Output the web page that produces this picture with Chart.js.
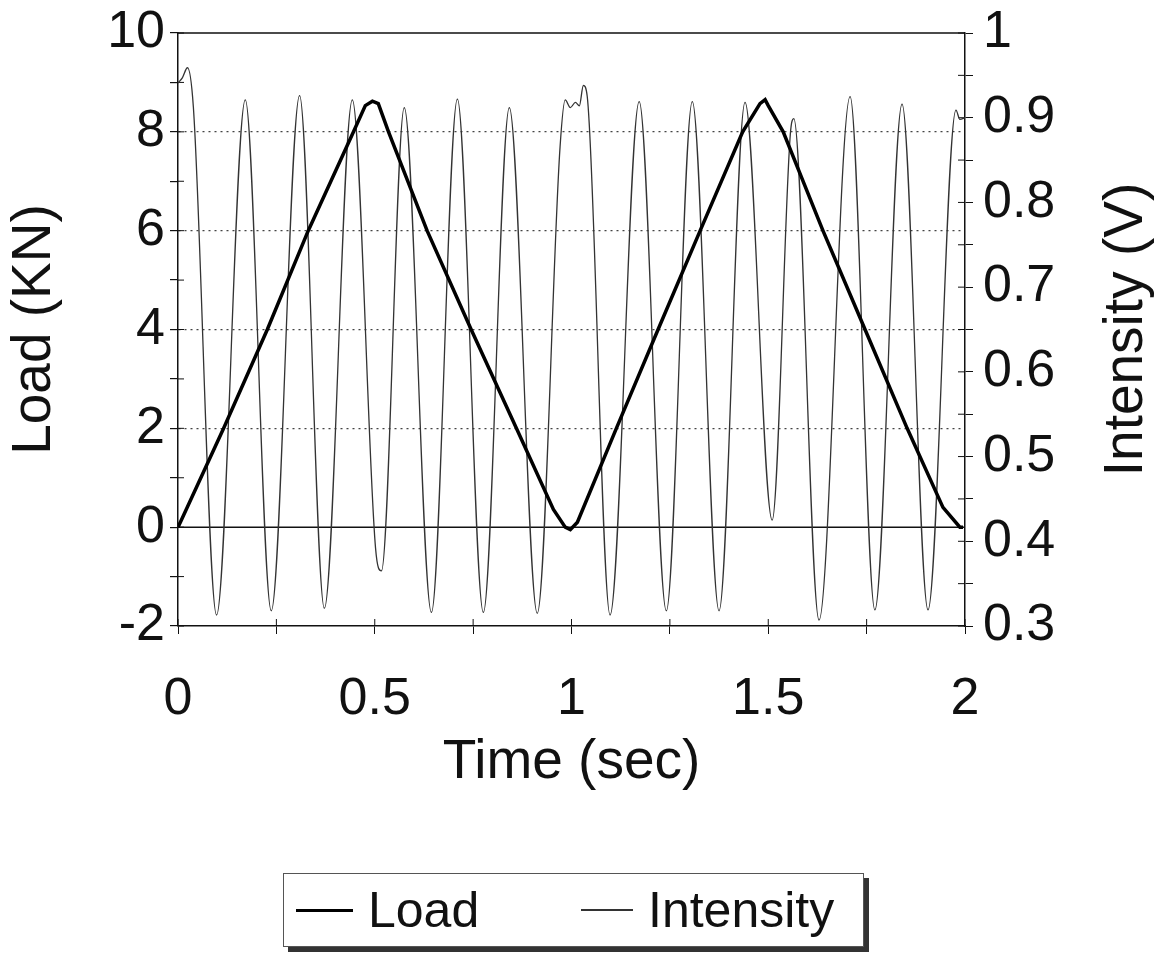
<!DOCTYPE html>
<html>
<head>
<meta charset="utf-8">
<script src="https://cdn.jsdelivr.net/npm/chart.js@4.4.0/dist/chart.umd.min.js"></script>
<style>
  body{margin:0;background:#fff}
  #wrap{position:relative;width:1164px;height:960px}
  #legend{position:absolute;left:283px;top:873px;width:579px;height:72px;border:1px solid #555;
          box-shadow:5px 5px 0 #333;background:#fff;font:50px 'Liberation Sans',Arial,sans-serif;color:#111}
  #legend .item{position:absolute;top:0;height:72px;display:flex;align-items:center}
  #legend .swatch{display:inline-block;margin-right:15px}
</style>
</head>
<body>
<div id="wrap">
  <canvas id="chart" width="1164" height="960"></canvas>
  <div id="legend"></div>
</div>
<script>
const $ = (id)=>document.getElementById(id);

// ---------- data ----------
const loadTime = [0, 0.006, 0.116, 0.227, 0.331, 0.446, 0.476, 0.494, 0.509, 0.535, 0.633, 0.745, 0.86, 0.954,
  0.984, 0.997, 1.015, 1.114, 1.22, 1.327, 1.435, 1.479, 1.492, 1.5, 1.538, 1.639, 1.746, 1.853, 1.944, 1.987, 1.995];
const loadKN = [0, 0.1, 2, 4, 6, 8, 8.53, 8.62, 8.57, 8, 6, 4, 2, 0.36,
  0, -0.05, 0.1, 2, 4, 6, 8, 8.57, 8.65, 8.53, 8, 6, 4, 2, 0.4, 0, 0];

const intTime = [0, 0.011, 0.024, 0.039, 0.098, 0.171, 0.237, 0.309, 0.372, 0.443, 0.502, 0.517, 0.575, 0.644,
  0.71, 0.776, 0.842, 0.913, 0.971, 0.984, 0.997, 1.01, 1.02, 1.03, 1.04, 1.098, 1.172, 1.241, 1.307, 1.375,
  1.441, 1.51, 1.556, 1.565, 1.629, 1.708, 1.771, 1.84, 1.906, 1.977, 1.987, 2.0];
const intV = [0.941, 0.947, 0.959, 0.913, 0.313, 0.921, 0.318, 0.926, 0.321, 0.921, 0.392, 0.365, 0.912, 0.316,
  0.922, 0.316, 0.912, 0.315, 0.866, 0.921, 0.912, 0.918, 0.914, 0.938, 0.925, 0.313, 0.919, 0.318, 0.919, 0.318,
  0.918, 0.425, 0.88, 0.899, 0.307, 0.925, 0.319, 0.916, 0.319, 0.909, 0.898, 0.9];

const timeLabels = [0, 0.5, 1, 1.5, 2];
const loadLabels = [-2, 0, 2, 4, 6, 8, 10];
const intLabels = [0.3, 0.4, 0.5, 0.6, 0.7, 0.8, 0.9, 1];
const dottedAt = [2, 4, 6, 8];

const FONT = "'Liberation Sans', Arial, Helvetica, sans-serif";
const INK = '#111';
const has = (list, v)=> list.some(l=>Math.abs(l-v)<1e-6);

// ---------- plugins ----------
const frame = {
  id:'frame',
  beforeDatasetsDraw(chart){
    const {ctx, chartArea:a, scales:{x, y, y1}} = chart;
    ctx.save();
    ctx.strokeStyle = INK; ctx.lineWidth = 1.5;
    const y0 = y.getPixelForValue(0);
    ctx.beginPath();
    ctx.moveTo(a.left, y0); ctx.lineTo(a.right, y0);
    ctx.moveTo(a.left, a.top); ctx.lineTo(a.right, a.top);
    ctx.stroke();
    // inner half of the tick marks
    ctx.lineWidth = 1; ctx.beginPath();
    x.ticks.forEach(t=>{ const p=x.getPixelForValue(t.value); ctx.moveTo(p,a.bottom); ctx.lineTo(p,a.bottom-7); });
    y.ticks.forEach(t=>{ const p=y.getPixelForValue(t.value); ctx.moveTo(a.left,p); ctx.lineTo(a.left+6,p); });
    y1.ticks.forEach(t=>{ const p=y1.getPixelForValue(t.value); ctx.moveTo(a.right,p); ctx.lineTo(a.right-7,p); });
    ctx.stroke();
    ctx.restore();
  },
  afterDraw(chart){
    // right axis title reads bottom-to-top like the left one
    const {ctx, chartArea:a, scales:{y1}} = chart;
    ctx.save();
    ctx.translate(y1.right - 37, (a.top + a.bottom)/2);
    ctx.rotate(-Math.PI/2);
    ctx.font = `55px ${FONT}`; ctx.fillStyle = INK;
    ctx.textAlign = 'center'; ctx.textBaseline = 'middle';
    ctx.fillText('Intensity (V)', 0, 0);
    ctx.restore();
  }
};

// fixed axis box sizes so the plot area sits where the original one does
const fitV = (w)=>(s)=>{ s.width = w; s.paddingTop = 0; s.paddingBottom = 0; };

// ---------- chart ----------
const tickFont = {family:FONT, size:52};
const chart = new Chart($('chart'), {
  type:'line',
  data:{datasets:[
    {label:'Load', data:loadTime.map((t,i)=>({x:t, y:loadKN[i]})), yAxisID:'y',
     borderColor:'#000', borderWidth:3.5, pointRadius:0, tension:0},
    {label:'Intensity', data:intTime.map((t,i)=>({x:t, y:intV[i]})), yAxisID:'y1',
     borderColor:'#333', borderWidth:1.3, pointRadius:0, cubicInterpolationMode:'monotone'}
  ]},
  options:{
    responsive:false, animation:false, devicePixelRatio:1,
    layout:{padding:{top:33, bottom:164, left:0, right:0}},
    plugins:{legend:{display:false}, tooltip:{enabled:false}},
    scales:{
      x:{type:'linear', min:0, max:2,
         afterFit:(s)=>{ s.height = 170; },
         ticks:{stepSize:0.25, autoSkip:false, maxRotation:0, padding:34, color:INK, font:tickFont,
                callback:(v)=> has(timeLabels, v) ? String(+v.toFixed(2)) : ''},
         grid:{drawOnChartArea:false, tickLength:8, tickColor:INK},
         border:{color:INK, width:1.5},
         title:{display:true, text:'Time (sec)', color:INK, font:{family:FONT, size:55}, padding:{top:0, bottom:0}}},
      y:{position:'left', min:-2, max:10,
         afterFit:fitV(178),
         ticks:{stepSize:1, autoSkip:false, padding:5, color:INK, font:tickFont,
                callback:(v)=> has(loadLabels, v) ? String(v) : ''},
         grid:{color:(c)=> has(dottedAt, c.tick.value) ? '#444' : 'rgba(0,0,0,0)', lineWidth:1.2,
               tickLength:8, tickColor:INK},
         border:{color:INK, width:1.5, dash:[2,4]},
         title:{display:true, text:'Load (KN)', color:INK, font:{family:FONT, size:55}, padding:{top:2, bottom:0}}},
      y1:{position:'right', min:0.3, max:1,
         afterFit:fitV(199),
         ticks:{stepSize:0.05, autoSkip:false, padding:10, color:INK, font:tickFont,
                callback:(v)=> has(intLabels, v) ? String(+v.toFixed(1)) : ''},
         grid:{drawOnChartArea:false, tickLength:8, tickColor:INK},
         border:{color:INK, width:1.5}}
    }
  },
  plugins:[frame]
});

// ---------- legend (built from the datasets) ----------
const legendLeft = [12, 297], legendSwatch = [57, 52];
$('legend').innerHTML = chart.data.datasets.map((d,i)=>`
  <div class="item" style="left:${legendLeft[i]}px">
    <span class="swatch" style="width:${legendSwatch[i]}px;border-top:${i ? 2 : 3}px solid ${d.borderColor}"></span>${d.label}
  </div>`).join('');
</script>
</body>
</html>
